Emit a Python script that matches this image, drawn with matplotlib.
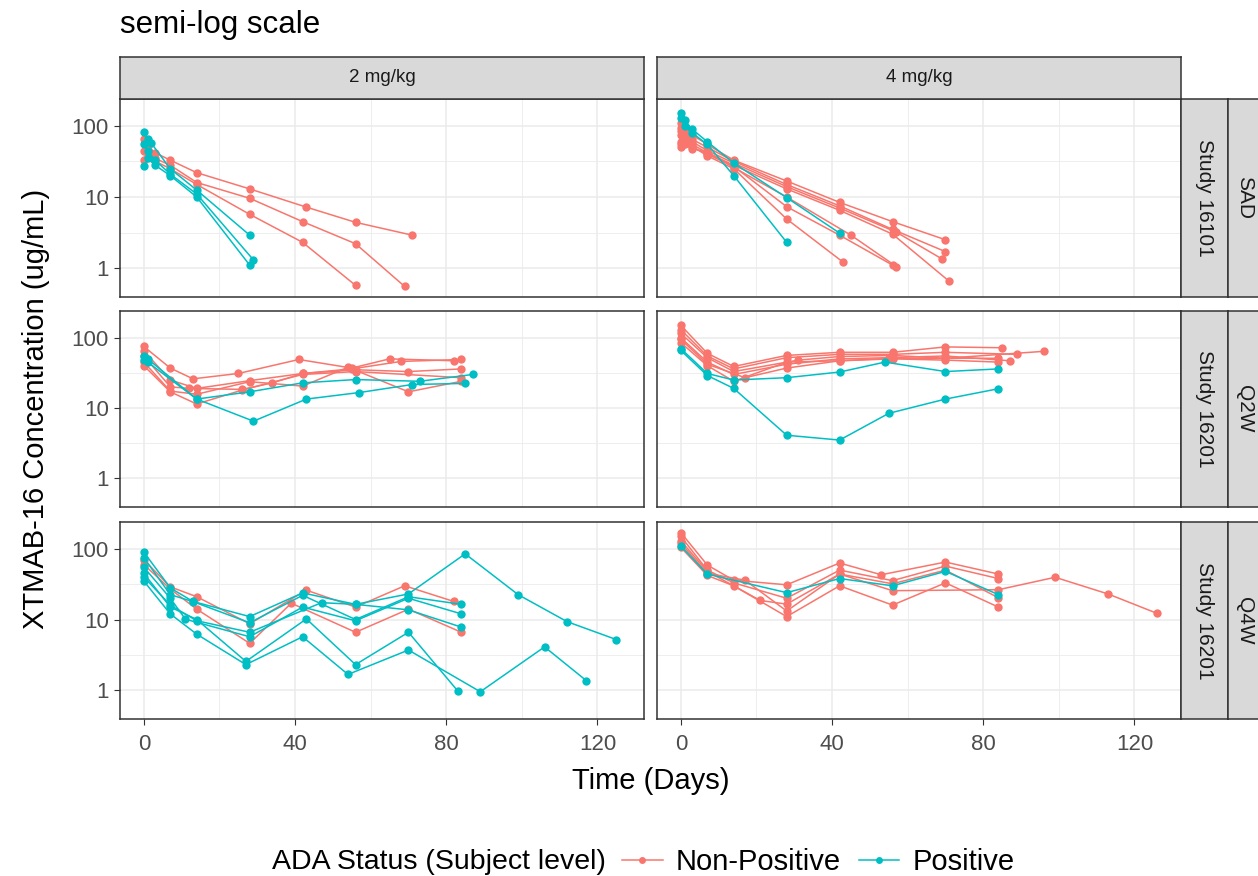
import matplotlib
matplotlib.use("Agg")
import matplotlib.pyplot as plt
from matplotlib.lines import Line2D
from matplotlib.ticker import FixedLocator, NullFormatter

plt.rcParams['font.family'] = ['Liberation Sans', 'DejaVu Sans']

# facet labels
dose_labels = ["2 mg/kg", "4 mg/kg"]
study_labels = ["Study 16101", "Study 16201", "Study 16201"]
regimen_labels = ["SAD", "Q2W", "Q4W"]
status_labels = ["Non-Positive", "Positive"]

# each subject: (days, concentration ug/mL)
sad_2_nonpos = [
    ([0, 1, 3, 7, 14, 28, 43, 56, 71], [65, 52, 42, 33, 22, 13, 7.2, 4.4, 2.9]),
    ([0, 1, 3, 7, 14, 28, 42, 56, 69], [45, 40, 35, 28, 16, 9.6, 4.5, 2.2, 0.55]),
    ([0, 1, 3, 7, 14, 28, 42, 56], [33, 45, 32, 25, 15, 5.7, 2.3, 0.57]),
]
sad_2_pos = [
    ([0, 1, 2, 7, 14, 28], [82, 65, 57, 25, 12.5, 2.9]),
    ([0, 1, 3, 7, 14, 29], [55, 45, 33, 21, 11, 1.3]),
    ([0, 1, 3, 7, 14, 28], [27, 35, 28, 20, 10, 1.1]),
]
sad_4_nonpos = [
    ([0, 1, 3, 7, 14, 28, 42, 56, 70], [110, 90, 75, 55, 33, 16.8, 8.4, 4.5, 2.5]),
    ([0, 1, 3, 7, 14, 28, 42, 56, 70], [95, 80, 65, 50, 32, 15, 7.5, 3.5, 1.7]),
    ([0, 1, 3, 7, 14, 28, 42, 57, 69], [85, 75, 60, 45, 30, 14, 7, 3.2, 1.35]),
    ([0, 1, 3, 7, 14, 28, 42, 56, 71], [75, 70, 55, 42, 28, 13, 6.5, 3, 0.65]),
    ([0, 1, 3, 7, 14, 28, 42, 56], [60, 55, 50, 40, 27, 7.3, 2.9, 1.1]),
    ([0, 1, 3, 7, 14, 28, 45, 57], [55, 60, 48, 43, 26, 10, 2.9, 1.05]),
    ([0, 1, 3, 7, 14, 28, 43], [50, 65, 52, 38, 25, 4.9, 1.2]),
]
sad_4_pos = [
    ([0, 1, 3, 7, 14, 28, 42], [150, 120, 90, 60, 30, 9.8, 3.1]),
    ([0, 1, 3, 7, 14, 28], [130, 100, 80, 55, 20, 2.3]),
]
q2w_2_nonpos = [
    ([0, 7, 13, 25, 41, 55, 65, 82], [75, 37, 26, 31, 49, 37, 50, 47]),
    ([0, 7, 14, 28, 42, 55, 68, 84], [65, 25, 19, 24.5, 31, 36, 46, 49]),
    ([0, 7, 12, 26, 34, 42, 56, 70, 84], [55, 20, 19, 18.4, 22.8, 31, 35, 33, 36]),
    ([0, 7, 14, 28, 42, 54, 70, 84], [45, 17.4, 15.7, 23.7, 20.5, 38, 17, 24]),
    ([0, 7, 14, 26, 42, 56, 84], [40, 17, 11.4, 18, 30, 33, 27]),
]
q2w_2_pos = [
    ([0, 1, 14, 28, 42, 56, 73, 87], [55, 50, 13.4, 17, 22.8, 25.4, 24, 30]),
    ([0, 1, 14, 29, 43, 57, 71, 85], [48, 45, 13.4, 6.5, 13.4, 16.6, 21.6, 22.4]),
]
q2w_4_nonpos = [
    ([0, 7, 14, 28, 42, 56, 70, 85], [150, 60, 39, 56, 62, 62, 74, 72]),
    ([0, 7, 14, 28, 42, 56, 70, 89], [130, 55, 36, 52, 58, 58, 62, 58]),
    ([0, 7, 14, 31, 42, 56, 70, 96], [115, 52, 33, 48, 54, 56, 51, 64]),
    ([0, 7, 14, 28, 42, 55, 70, 87], [100, 45, 30, 42, 50, 52, 55, 47]),
    ([0, 7, 17, 28, 42, 56, 84], [95, 42, 27, 37, 47, 51, 51]),
    ([0, 7, 14, 28, 42, 56, 70, 84], [85, 40, 24, 45, 47, 50, 48, 45]),
]
q2w_4_pos = [
    ([0, 7, 14, 28, 42, 55, 70, 84], [66, 29, 19, 4.1, 3.5, 8.4, 13.4, 18.8]),
    ([0, 7, 14, 28, 42, 54, 70, 84], [70, 31, 25, 27, 32.5, 45, 33, 36]),
]
q4w_2_nonpos = [
    ([0, 7, 14, 28, 43, 56, 69, 82], [70, 29, 21, 8.7, 26, 15, 30, 18]),
    ([0, 7, 14, 28, 39, 56, 70, 84], [60, 27, 14, 4.6, 17, 6.6, 14, 6.6]),
]
q4w_2_pos = [
    ([0, 7, 13, 28, 42, 56, 70, 85, 99, 112, 125], [90, 28, 18, 11, 23.8, 16.4, 23, 85, 22.5, 9.3, 5.2]),
    ([0, 7, 14, 27, 43, 56, 70, 83], [45, 15, 10, 2.55, 10.2, 2.3, 6.6, 0.98]),
    ([0, 7, 14, 27, 42, 54, 70, 89, 106, 117], [35, 12, 6.2, 2.3, 5.7, 1.67, 3.7, 0.95, 4.1, 1.37]),
    ([0, 7, 11, 28, 42, 56, 70, 84], [55, 20, 10.1, 5.7, 15, 9.6, 20, 12]),
    ([0, 7, 14, 28, 47, 56, 70, 84], [40, 16, 9.6, 6.6, 17.3, 16.4, 13.7, 7.8]),
    ([0, 7, 13, 28, 42, 56, 70, 84], [75, 22.5, 17.9, 9, 22, 10, 21, 16.4]),
]
q4w_4_nonpos = [
    ([0, 7, 14, 28, 42, 53, 70, 84], [170, 59, 36, 31, 63, 43, 65, 44]),
    ([0, 7, 14, 28, 42, 56, 70, 84], [150, 50, 33, 20, 50, 35.5, 57, 38]),
    ([0, 7, 21, 28, 42, 56, 84, 99, 113, 126], [130, 48, 18.6, 16.5, 44, 25.6, 26.4, 39.6, 23, 12.2]),
    ([0, 7, 17, 28, 42, 56, 70, 84], [120, 45, 36, 13.2, 44, 32, 50, 20.3]),
    ([0, 7, 14, 28, 42, 56, 70, 84], [105, 42, 30, 11, 30, 16, 33, 15]),
]
q4w_4_pos = [
    ([0, 7, 28, 42, 56, 70, 84], [110, 44, 24, 38, 30, 48, 22.5]),
]

panels = [
    [(sad_2_nonpos, sad_2_pos), (sad_4_nonpos, sad_4_pos)],
    [(q2w_2_nonpos, q2w_2_pos), (q2w_4_nonpos, q2w_4_pos)],
    [(q4w_2_nonpos, q4w_2_pos), (q4w_4_nonpos, q4w_4_pos)],
]

colors = ["#F8766D", "#00BFC4"]
W, H = 1258, 876
fig = plt.figure(figsize=(W / 100, H / 100), dpi=100)

col_x = [(120, 644), (657, 1181)]
row_y = [(99, 297), (311, 507), (522, 719)]
border = "#333333"
strip_bg = "#D9D9D9"


def fx(px):
    return px / W


def fy(py):
    return 1 - py / H


def strip_axes(x0, x1, y0, y1):
    sa = fig.add_axes([fx(x0), fy(y1), fx(x1 - x0), (y1 - y0) / H])
    sa.set_facecolor(strip_bg)
    sa.set_xticks([])
    sa.set_yticks([])
    for s in sa.spines.values():
        s.set_color(border)
        s.set_linewidth(1.1)
    return sa


for r, (yt, yb) in enumerate(row_y):
    for c, (xl, xr) in enumerate(col_x):
        ax = fig.add_axes([fx(xl), fy(yb), fx(xr - xl), (yb - yt) / H])
        nonpos, pos = panels[r][c]
        for k, group in enumerate([nonpos, pos]):
            for days, conc in group:
                ax.plot(days, conc, color=colors[k], lw=1.1, marker='o',
                        markersize=6, markeredgewidth=0, zorder=3)
        ax.set_yscale('log')
        ax.set_ylim(10 ** -0.408, 10 ** 2.38)
        ax.set_xlim(-6.3, 132.3)
        ax.xaxis.set_major_locator(FixedLocator([0, 40, 80, 120]))
        ax.xaxis.set_minor_locator(FixedLocator([20, 60, 100]))
        ax.yaxis.set_major_locator(FixedLocator([1, 10, 100]))
        ax.yaxis.set_minor_locator(FixedLocator([10 ** -0.5, 10 ** 0.5, 10 ** 1.5]))
        ax.yaxis.set_minor_formatter(NullFormatter())
        ax.grid(which='major', color='#EBEBEB', lw=1.1, zorder=0)
        ax.grid(which='minor', color='#EBEBEB', lw=0.6, zorder=0)
        ax.set_axisbelow(True)
        for s in ax.spines.values():
            s.set_color(border)
            s.set_linewidth(1.1)
        ax.tick_params(which='minor', length=0)
        ax.tick_params(which='major', length=4, color=border, labelsize=16,
                       labelcolor='#4D4D4D')
        ax.tick_params(axis='x', pad=7)
        ax.tick_params(axis='y', pad=4)
        if c == 0:
            ax.set_yticklabels(["1", "10", "100"])
        else:
            ax.tick_params(axis='y', which='major', length=0, labelleft=False)
        if r == 2:
            ax.set_xticklabels(["0", "40", "80", "120"])
        else:
            ax.tick_params(axis='x', which='major', length=0, labelbottom=False)

    # right strips for this row
    sa = strip_axes(1181, 1228, yt, yb)
    sa.text(0.5, 0.5, study_labels[r], rotation=-90, ha='center', va='center',
            fontsize=15, color='#1A1A1A', transform=sa.transAxes)
    sa = strip_axes(1228, 1290, yt, yb)
    sa.text((1245 - 1228) / 62, 0.5, regimen_labels[r], rotation=-90, ha='center',
            va='center', fontsize=15, color='#1A1A1A', transform=sa.transAxes)

# top strips
for c, (xl, xr) in enumerate(col_x):
    sa = strip_axes(xl, xr, 57, 99)
    sa.text(0.5, 0.5, dose_labels[c], ha='center', va='center', fontsize=13.5,
            color='#1A1A1A', transform=sa.transAxes)

fig.text(fx(120), fy(25), "semi-log scale", ha='left', va='center', fontsize=22.5)
fig.text(fx(36), fy(409), "XTMAB-16 Concentration (ug/mL)", rotation=90,
         ha='center', va='center', fontsize=21)
fig.text(fx(651), fy(781), "Time (Days)", ha='center', va='center', fontsize=21)

fig.text(fx(606), fy(862), "ADA Status (Subject level)", ha='right', va='center', fontsize=20.5)
handles = [Line2D([], [], color=colors[k], lw=1.1, marker='o', markersize=5,
                  markeredgewidth=0) for k in range(2)]
fig.legend(handles, status_labels, loc='center left',
           bbox_to_anchor=(fx(622), fy(862)), ncol=2, frameon=False,
           fontsize=21, handlelength=1.4, handletextpad=0.45, columnspacing=0.6,
           borderaxespad=0, borderpad=0)

fig.savefig("out.png", dpi=100)
